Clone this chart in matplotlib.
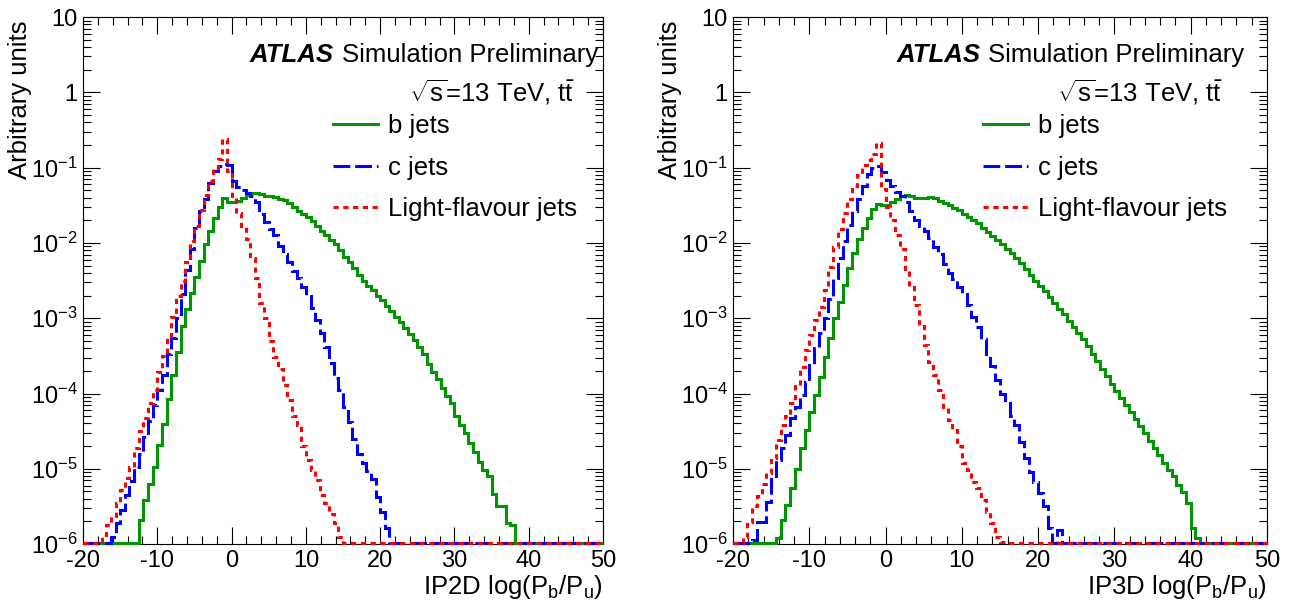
import numpy as np
import matplotlib
matplotlib.use("Agg")
import matplotlib.pyplot as plt
from matplotlib.lines import Line2D
from matplotlib.ticker import MultipleLocator, LogLocator, FuncFormatter, NullFormatter

plt.rcParams['font.family'] = ['Liberation Sans', 'DejaVu Sans']
plt.rcParams['mathtext.fontset'] = 'custom'
plt.rcParams['mathtext.rm'] = 'Liberation Sans'
plt.rcParams['mathtext.it'] = 'Liberation Sans:italic'
plt.rcParams['mathtext.bf'] = 'Liberation Sans:bold'
plt.rcParams['axes.unicode_minus'] = False

# histogram binning
x_lo, x_hi, n_bins = -20, 50, 112

# log10 of bin contents; list starts at bin index *_start, None = empty bin
b_2d_start = 12
b_2d = [-5.68, -5.42, -5.20, -4.97, -4.68, -4.40, -4.07, -3.76, -3.45, -3.10,
        -2.88, -2.66, -2.45, -2.24, -2.02, -1.84, -1.67, -1.52, -1.40, -1.45,
        -1.46, -1.44, -1.40, -1.36, -1.33, -1.33, -1.35, -1.37, -1.38, -1.39,
        -1.41, -1.43, -1.47, -1.52, -1.57, -1.61, -1.66, -1.71, -1.78, -1.84,
        -1.89, -1.96, -2.02, -2.10, -2.18, -2.25, -2.33, -2.42, -2.50, -2.57,
        -2.63, -2.70, -2.76, -2.84, -2.91, -2.98, -3.05, -3.13, -3.21, -3.29,
        -3.38, -3.47, -3.61, -3.71, -3.81, -3.93, -4.03, -4.13, -4.30, -4.42,
        -4.53, -4.66, -4.78, -4.91, -5.01, -5.10, -5.33, -5.50, -5.50, -5.72,
        -5.75]

c_2d_start = 6
c_2d = [-5.90, -5.72, -5.55, -5.35, -5.16, -4.98, -4.80, -4.58, -4.36, -4.15,
        -3.95, -3.76, -3.48, -3.26, -3.00, -2.68, -2.36, -2.08, -1.80, -1.58,
        -1.41, -1.20, -1.05, -0.98, -0.95, -0.97, -1.18, -1.26, -1.30, -1.34,
        -1.38, -1.45, -1.62, -1.72, -1.81, -1.90, -2.04, -2.15, -2.25, -2.37,
        -2.47, -2.58, -2.70, -2.86, -3.02, -3.20, -3.38, -3.60, -3.80, -3.95,
        -4.18, -4.38, -4.60, -4.80, -4.92, -5.03, -5.13, -5.38, -5.58, -5.78]

l_2d_start = 4
l_2d = [-5.88, -5.75, -5.62, -5.45, -5.28, -5.12, -4.98, -4.72, -4.50, -4.32,
        -4.12, -3.95, -3.72, -3.50, -3.24, -2.98, -2.70, -2.50, -2.25, -1.98,
        -1.78, -1.56, -1.36, -1.18, -1.00, -0.88, -0.62, -1.05, -1.40, -1.60,
        -1.78, -1.95, -2.20, -2.47, -2.80, -3.00, -3.30, -3.52, -3.68, -3.88,
        -4.08, -4.30, -4.42, -4.70, -4.88, -5.02, -5.15, -5.35, -5.45, -5.60,
        -5.72, -5.90]

b_3d_start = 9
b_3d = [-5.92, -5.68, -5.48, -5.25, -5.00, -4.72, -4.48, -4.25, -4.02, -3.78,
        -3.52, -3.26, -3.00, -2.78, -2.56, -2.33, -2.14, -1.95, -1.80, -1.67,
        -1.55, -1.48, -1.50, -1.50, -1.45, -1.41, -1.37, -1.36, -1.38, -1.40,
        -1.40, -1.40, -1.39, -1.40, -1.44, -1.47, -1.50, -1.53, -1.56, -1.61,
        -1.66, -1.69, -1.74, -1.80, -1.85, -1.91, -1.96, -2.01, -2.08, -2.14,
        -2.20, -2.27, -2.34, -2.42, -2.50, -2.57, -2.64, -2.72, -2.80, -2.88,
        -2.95, -3.03, -3.11, -3.19, -3.28, -3.37, -3.47, -3.57, -3.67, -3.77,
        -3.87, -3.97, -4.06, -4.15, -4.25, -4.34, -4.43, -4.53, -4.63, -4.72,
        -4.82, -4.92, -5.01, -5.10, -5.22, -5.31, -5.45, -5.78, -5.92]

c_3d_start = 4
c_3d = [-5.95, -5.70, -5.70, -5.44, -5.10, -4.88, -4.72, -4.55, -4.32, -4.18,
        -4.02, -3.85, -3.62, -3.40, -3.20, -3.00, -2.74, -2.47, -2.20, -1.97,
        -1.76, -1.57, -1.42, -1.25, -1.08, -1.00, -0.98, -1.06, -1.17, -1.25,
        -1.32, -1.38, -1.46, -1.58, -1.70, -1.78, -1.84, -1.93, -2.05, -2.15,
        -2.28, -2.40, -2.48, -2.58, -2.68, -2.82, -2.98, -3.12, -3.28, -3.48,
        -3.64, -3.82, -4.00, -4.12, -4.30, -4.42, -4.65, -4.85, -5.04, -5.18,
        -5.32, -5.50, -5.78, None, -5.81]

l_3d_start = 2
l_3d = [-5.90, -5.70, -5.50, -5.36, -5.20, -5.05, -4.85, -4.62, -4.42, -4.30,
        -4.12, -3.90, -3.65, -3.42, -3.22, -3.02, -2.85, -2.62, -2.32, -2.06,
        -1.82, -1.60, -1.41, -1.24, -1.10, -0.97, -0.90, -0.82, -0.67, -1.28,
        -1.52, -1.70, -1.90, -2.08, -2.35, -2.58, -2.82, -3.10, -3.35, -3.58,
        -3.75, -3.95, -4.18, -4.35, -4.48, -4.70, -4.92, -5.02, -5.18, -5.25,
        -5.42, -5.57, -5.72, -5.90, -5.97]

labels = ['b jets', 'c jets', 'Light-flavour jets']
xtitles = ['IP2D', 'IP3D']

y_lo, y_hi = 1e-6, 10
edges = np.linspace(x_lo, x_hi, n_bins + 1)

green = '#009600'
styles = [dict(color=green, linestyle='-'),
          dict(color='#0000ff', linestyle=(0, (5.5, 1.6))),
          dict(color='#ff0000', linestyle=(0, (1.7, 1.5)))]
lw = 2.2
fs = 18.5      # titles, legend, labels
fs_tick = 17


def fill(start, logs):
    h = np.zeros(n_bins)
    for i, v in enumerate(logs):
        if v is not None:
            h[start + i] = 10.0 ** v
    # empty bins sit on the lower frame like ROOT draws them
    return np.clip(h, y_lo * 1.02, None)


def yfmt(v, pos):
    e = int(round(np.log10(v)))
    if e == 0:
        return '1'
    if e == 1:
        return '10'
    return r'$\mathregular{10^{%d}}$' % e


# rect, series, ATLAS right end, "Simulation" left start, sqrt(s) right end, legend left, ylabel x
panels = [
    ([0.0642, 0.108, 0.4022, 0.864],
     [(b_2d_start, b_2d), (c_2d_start, c_2d), (l_2d_start, l_2d)],
     0.481, 0.498, 0.946, 0.481, -0.122),
    ([0.5669, 0.108, 0.413, 0.864],
     [(b_3d_start, b_3d), (c_3d_start, c_3d), (l_3d_start, l_3d)],
     0.463, 0.478, 0.916, 0.468, -0.118),
]

fig = plt.figure(figsize=(12.93, 6.10), dpi=100)

for (rect, series, atl_x, sim_x, rs_x, leg_x, yl_x), xt in zip(panels, xtitles):
    ax = fig.add_axes(rect)
    for (start, logs), st in zip(series, styles):
        ax.stairs(fill(start, logs), edges, baseline=None, lw=lw,
                  clip_on=False, zorder=3, **st)

    ax.set_yscale('log')
    ax.set_xlim(x_lo, x_hi)
    ax.set_ylim(y_lo, y_hi)
    ax.xaxis.set_major_locator(MultipleLocator(10))
    ax.xaxis.set_minor_locator(MultipleLocator(2))
    ax.yaxis.set_major_locator(LogLocator(base=10, numticks=20))
    ax.yaxis.set_minor_locator(LogLocator(base=10, subs=np.arange(2, 10), numticks=20))
    ax.yaxis.set_major_formatter(FuncFormatter(yfmt))
    ax.yaxis.set_minor_formatter(NullFormatter())
    ax.tick_params(which='both', direction='in', top=True, right=True, width=0.8)
    ax.tick_params(which='major', length=12, labelsize=fs_tick)
    ax.tick_params(which='minor', length=6)
    ax.tick_params(axis='x', which='major', pad=4.5)
    ax.tick_params(axis='y', which='major', pad=4)
    for sp in ax.spines.values():
        sp.set_linewidth(0.8)

    ax.text(yl_x, 0.994, 'Arbitrary units', rotation=90, ha='center', va='top',
            fontsize=fs, transform=ax.transAxes)
    ax.text(1.0, -0.095, xt + r' log(P$_{\mathregular{b}}$/P$_{\mathregular{u}}$)',
            ha='right', va='baseline', fontsize=fs, transform=ax.transAxes)

    ax.text(atl_x, 0.914, 'ATLAS', fontsize=fs, fontweight='bold', style='italic',
            ha='right', va='baseline', transform=ax.transAxes)
    ax.text(sim_x, 0.914, 'Simulation Preliminary', fontsize=fs,
            ha='left', va='baseline', transform=ax.transAxes)
    ax.text(rs_x, 0.84, r'$\sqrt{\mathregular{s}}$=13 TeV, $\mathregular{t\bar{t}}$',
            fontsize=fs, ha='right', va='baseline', transform=ax.transAxes)

    handles = [Line2D([], [], lw=lw, **st) for st in styles]
    ax.legend(handles, labels, loc='upper left', bbox_to_anchor=(leg_x, 0.816),
              frameon=False, fontsize=fs, handlelength=1.75, handletextpad=0.4,
              labelspacing=0.68, borderpad=0, borderaxespad=0)

fig.savefig('out.png', dpi=100)
